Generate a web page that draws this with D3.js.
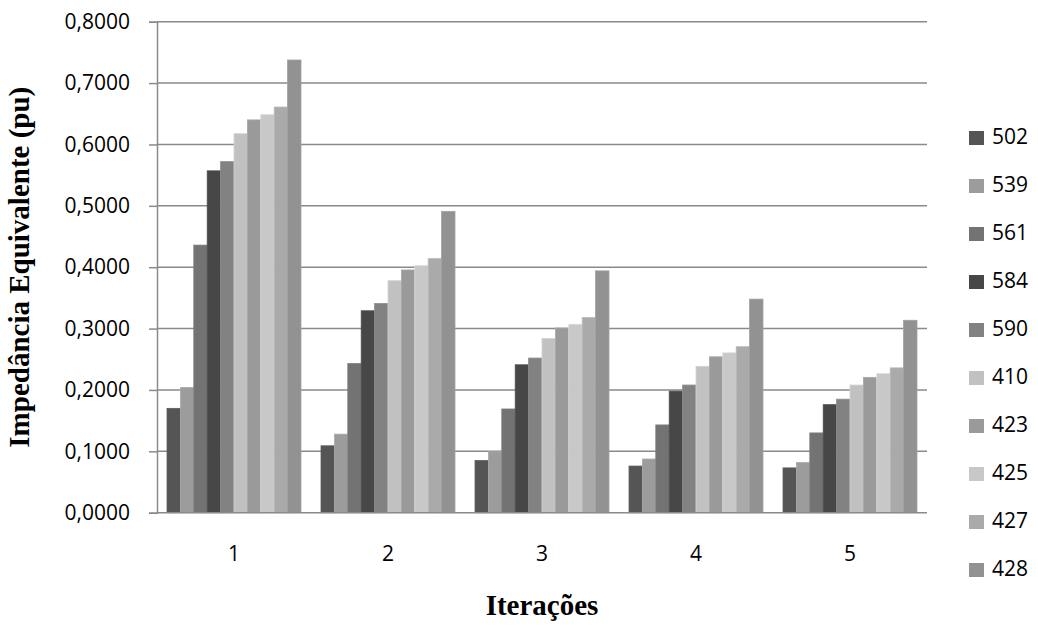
<!DOCTYPE html>
<html>
<head>
<meta charset="utf-8">
<script src="https://cdn.jsdelivr.net/npm/d3@7"></script>
<style>
  body { margin: 0; background: #fff; }
  text { fill: #000; }
</style>
</head>
<body>
<div id="chart"></div>
<script>
// data
const iteracoes = ["1", "2", "3", "4", "5"];
const series = ["502", "539", "561", "584", "590", "410", "423", "425", "427", "428"];
// one row per series, one value per iteration
const values = [
    [0.170, 0.109, 0.085, 0.076, 0.073],
    [0.204, 0.128, 0.099, 0.0875, 0.082],
    [0.436, 0.243, 0.169, 0.143, 0.130],
    [0.557, 0.329, 0.241, 0.198, 0.176],
    [0.572, 0.341, 0.252, 0.208, 0.185],
    [0.6175, 0.378, 0.284, 0.2385, 0.208],
    [0.640, 0.3955, 0.301, 0.254, 0.2205],
    [0.6485, 0.4025, 0.307, 0.2605, 0.2265],
    [0.661, 0.414, 0.318, 0.2705, 0.236],
    [0.7376, 0.491, 0.394, 0.348, 0.3135]
];
const yTicks = [0, 0.1, 0.2, 0.3, 0.4, 0.5, 0.6, 0.7, 0.8];

const colors = ["#555555", "#9c9c9c", "#737373", "#474747", "#828282",
    "#c1c1c1", "#9a9a9a", "#c8c8c8", "#aaaaaa", "#929292"];

const width = 1038, height = 628;
const margin = { top: 21.7, right: 111, bottom: 115.3, left: 157 };

const svg = d3.select("#chart")
    .append("svg")
    .attr("width", width)
    .attr("height", height);

const x0 = d3.scaleBand()
    .domain(iteracoes)
    .range([margin.left, width - margin.right])
    .paddingInner(0.13)
    .paddingOuter(0.065);

const x1 = d3.scaleBand()
    .domain(series)
    .range([0, x0.bandwidth()]);

const y = d3.scaleLinear()
    .domain([0, 0.8])
    .range([height - margin.bottom, margin.top]);

const color = d3.scaleOrdinal().domain(series).range(colors);

const fmt = d => d3.format(".4f")(d).replace(".", ",");

// gridlines
svg.append("g")
    .selectAll("line")
    .data(yTicks.slice(1))
    .enter()
    .append("line")
    .attr("x1", margin.left)
    .attr("x2", width - margin.right)
    .attr("y1", d => y(d))
    .attr("y2", d => y(d))
    .attr("stroke", "#8a8a8a")
    .attr("stroke-width", 1.5);

// bars
const rows = [];
iteracoes.forEach((it, i) => {
    series.forEach((s, j) => rows.push({ it: it, s: s, v: values[j][i] }));
});

svg.append("g")
    .selectAll("rect")
    .data(rows)
    .enter()
    .append("rect")
    .attr("x", d => x0(d.it) + x1(d.s))
    .attr("y", d => y(d.v))
    .attr("width", x1.bandwidth())
    .attr("height", d => y(0) - y(d.v))
    .attr("fill", d => color(d.s))
    .attr("stroke", d => d3.color(color(d.s)).brighter(0.25))
    .attr("stroke-width", 0.8);

// y axis
const yAxis = d3.axisLeft(y)
    .tickValues(yTicks)
    .tickFormat(fmt)
    .tickSize(8)
    .tickPadding(19);

const gy = svg.append("g")
    .attr("transform", `translate(${margin.left},0)`)
    .call(yAxis);
gy.select(".domain").attr("stroke", "#8a8a8a").attr("stroke-width", 1.5);
gy.selectAll(".tick line").attr("stroke", "#8a8a8a").attr("stroke-width", 1.5);
gy.selectAll(".tick text")
    .attr("font-family", "'Open Sans', sans-serif")
    .attr("font-size", 21)
    .attr("fill", "#000");

// x axis
const xAxis = d3.axisBottom(x0).tickSize(0).tickPadding(33);
const gx = svg.append("g")
    .attr("transform", `translate(0,${y(0)})`)
    .call(xAxis);
gx.select(".domain")
    .attr("d", `M${margin.left},0H${width - margin.right}`)
    .attr("stroke", "#8a8a8a").attr("stroke-width", 1.5);
gx.selectAll(".tick text")
    .attr("font-family", "'Open Sans', sans-serif")
    .attr("font-size", 21)
    .attr("fill", "#000");

// axis titles
svg.append("text")
    .attr("x", (margin.left + width - margin.right) / 2)
    .attr("y", 608)
    .attr("text-anchor", "middle")
    .attr("dominant-baseline", "middle")
    .attr("font-family", "'Liberation Serif', serif")
    .attr("font-weight", "bold")
    .attr("font-size", 29)
    .text("Iterações");

svg.append("text")
    .attr("transform", `translate(22,${(margin.top + y(0)) / 2}) rotate(-90)`)
    .attr("text-anchor", "middle")
    .attr("dominant-baseline", "middle")
    .attr("font-family", "'Liberation Serif', serif")
    .attr("font-weight", "bold")
    .attr("font-size", 29)
    .text("Impedância Equivalente (pu)");

// legend
const legend = svg.append("g")
    .selectAll("g")
    .data(series)
    .enter()
    .append("g")
    .attr("transform", (d, i) => `translate(969,${138 + i * 48})`);

legend.append("rect")
    .attr("x", 0)
    .attr("y", -7)
    .attr("width", 15)
    .attr("height", 14)
    .attr("fill", d => color(d));

legend.append("text")
    .attr("x", 23)
    .attr("y", 0)
    .attr("dominant-baseline", "middle")
    .attr("font-family", "'Open Sans', sans-serif")
    .attr("font-size", 21)
    .text(d => d);
</script>
</body>
</html>
